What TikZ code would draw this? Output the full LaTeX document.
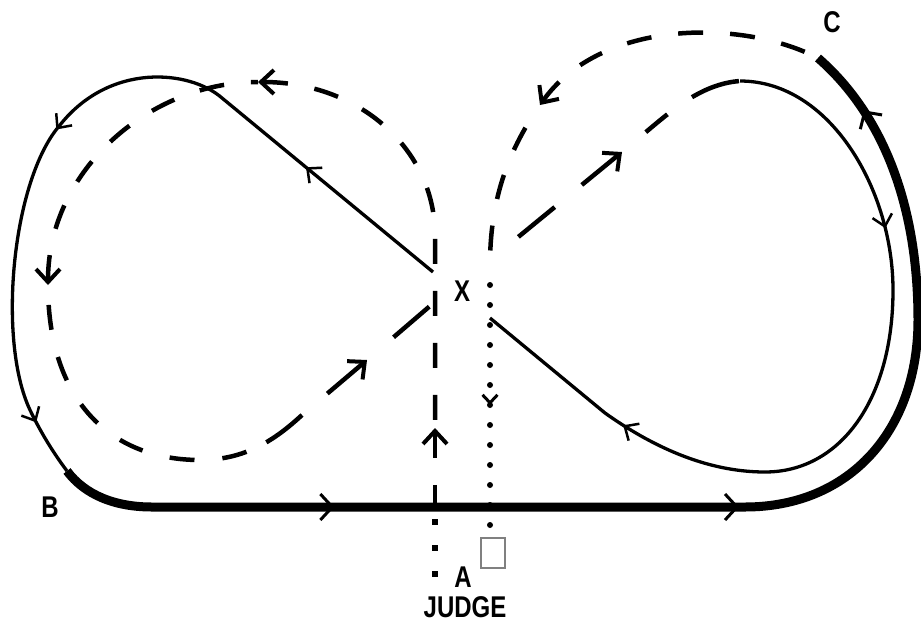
\documentclass[tikz,border=0pt]{standalone}
\usepackage{fontspec}
\usetikzlibrary{arrows.meta,decorations.markings}
\newfontfamily\labelfont[FakeStretch=0.8]{Liberation Sans}

\tikzset{
  track/.style={line width=3.3pt},
  heavy/.style={line width=9pt},
  vdash/.style={line width=4.5pt, dash pattern=on 25pt off 27pt},
  ddash/.style={line width=4.5pt, dash pattern=on 47pt off 35pt},
  dottrack/.style={line width=6pt, line cap=round, dash pattern=on 0pt off 20pt},
  squaredots/.style={line width=6pt, dash pattern=on 6pt off 20pt},
  tipstart/.style={arrows={Straight Barb[length=13pt,width=24pt,line width=4pt]-}},
  tip at/.style={postaction={decorate,decoration={markings,
    mark=at position #1 with {\arrow{Straight Barb[length=11pt,width=20pt,line width=2.5pt]}}}}},
  htip at/.style={postaction={decorate,decoration={markings,
    mark=at position #1 with {\arrow{Straight Barb[length=12pt,width=26pt,line width=3pt]}}}}},
  ptip at/.style={postaction={decorate,decoration={markings,
    mark=at position #1 with {\arrow{Straight Barb[length=8pt,width=15pt,line width=3pt]}}}}},
  lbl/.style={font=\labelfont\bfseries\fontsize{30}{30}\selectfont, inner sep=0pt},
  judgebox/.style={draw=gray, line width=1.5pt, minimum width=24pt, minimum height=30pt, inner sep=0pt}
}

\begin{document}
\begin{tikzpicture}[x=1pt,y=-1pt]
\useasboundingbox (0,0) rectangle (921,622);

% solid course
\draw[track, tip at=0.2, tip at=0.56, tip at=0.93]
  (433,272) -- (222,98) .. controls (190,70) and (110,62) .. (60,125)
  .. controls (12,180) and (-3,340) .. (30,410) .. controls (42,435) and (55,455) .. (67,471);
\draw[heavy, htip at=0.22, htip at=0.54, htip at=0.945]
  (67,471) .. controls (85,495) and (115,507) .. (152,507) -- (745,507)
  .. controls (850,507) and (918,430) .. (918,320) .. controls (918,200) and (880,112) .. (818,58);
\draw[track, tip at=0.26, tip at=0.8]
  (740,81) .. controls (830,81) and (893,190) .. (893,290)
  .. controls (893,400) and (840,472) .. (765,472) .. controls (705,472) and (650,445) .. (605,413)
  -- (490,318);

% dashed course, left loop
\draw[vdash, tipstart] (435,428) -- (435,512);
\draw[vdash, tipstart] (258,82) .. controls (360,82) and (435,150) .. (435,235) -- (435,428);
\draw[vdash, tipstart] (48,285) .. controls (48,170) and (150,82) .. (258,82);
\draw[ddash, tipstart] (367,360) -- (302,415);
\draw[vdash, dash pattern=on 45pt off 22pt on 25pt off 28pt on 25pt off 28pt on 25pt off 28pt
  on 25pt off 28pt on 25pt off 28pt on 25pt off 28pt on 23pt off 60pt]
  (302,415) .. controls (275,440) and (245,460) .. (200,460) .. controls (110,460) and (48,400) .. (48,285);
\draw[ddash, dash phase=47pt] (367,360) -- (430,306);

% dashed course, right loop
\draw[ddash, tipstart] (622,152) -- (517,238);
\draw[ddash, dash pattern=on 0pt off 31pt on 28pt off 30pt on 50pt off 60pt]
  (622,152) -- (640,137) .. controls (670,112) and (700,84) .. (740,81);
\draw[vdash, tipstart] (540,105) .. controls (600,20) and (740,18) .. (818,58);
\draw[vdash, dash phase=25pt] (540,105) .. controls (505,155) and (490,205) .. (490,265);

% centre line
\draw[dottrack, ptip at=0.48] (490,285) -- (490,535);
\draw[squaredots] (435,519) -- (435,578);

\node[judgebox] (judge) at (493,553) {};
\node[lbl] (X) at (462,291) {X};
\node[lbl] (A) at (463,577) {A};
\node[lbl] (judgelbl) at (465,607) {JUDGE};
\node[lbl] (B) at (50,507) {B};
\node[lbl] (C) at (832,22) {C};
\end{tikzpicture}
\end{document}
